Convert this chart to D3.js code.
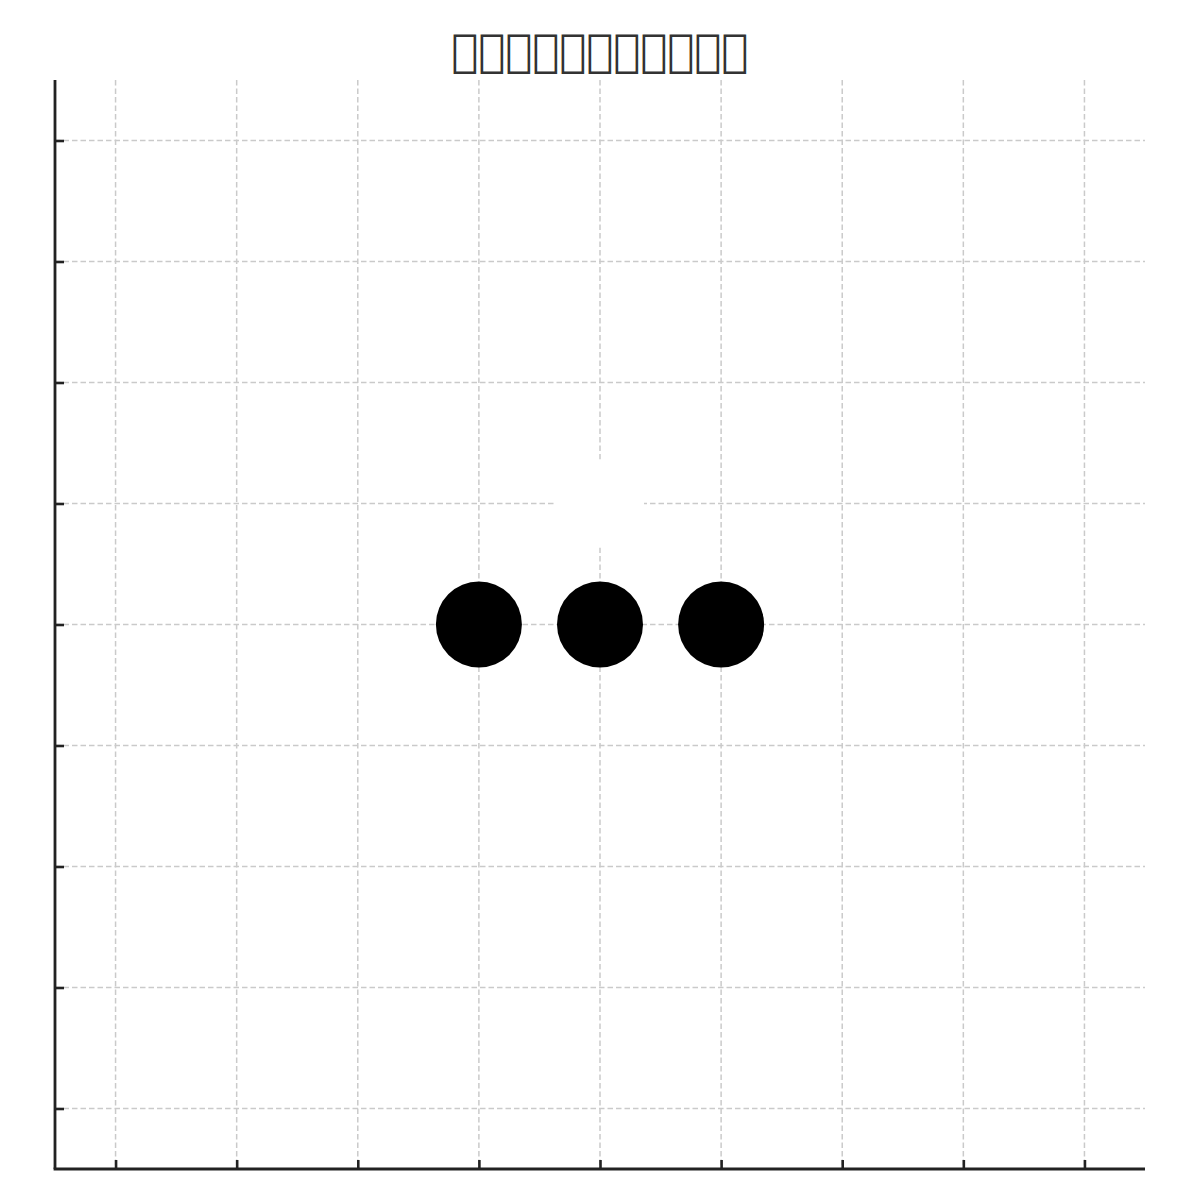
<!DOCTYPE html>
<html><head><meta charset="utf-8">
<script src="https://cdn.jsdelivr.net/npm/d3@7"></script>
<style>body{margin:0;background:#fff}</style>
</head><body>
<script>
const title = "\uE000\uE001\uE002\uE003\uE004\uE005\uE006\uE007\uE008\uE009\uE00A";
const xTicks = [0,1,2,3,4,5,6,7,8];
const yTicks = [0,1,2,3,4,5,6,7,8];
const dotsX = [3,4,5];
const dotsY = [4,4,4];
const squareX = [4];
const squareY = [5];

const W=1200,H=1200;
const m={left:55,right:1145,top:80,bottom:1169};
const svg=d3.select("body").append("svg").attr("width",W).attr("height",H);
const x=d3.scaleLinear().domain([-0.5,8.5]).range([m.left,m.right]);
const y=d3.scaleLinear().domain([-0.5,8.5]).range([m.bottom,m.top]);

const g=svg.append("g");
g.selectAll(".gx").data(xTicks).join("line")
 .attr("x1",d=>x(d)).attr("x2",d=>x(d)).attr("y1",m.top).attr("y2",m.bottom)
 .attr("stroke","#cacaca").attr("stroke-width",1.5).attr("stroke-dasharray","5.5,3");
g.selectAll(".gy").data(yTicks).join("line")
 .attr("y1",d=>y(d)).attr("y2",d=>y(d)).attr("x1",m.left).attr("x2",m.right)
 .attr("stroke","#cacaca").attr("stroke-width",1.5).attr("stroke-dasharray","5.5,3");

// white square marker
const sq=88;
g.selectAll(".sq").data(squareX.map((d,i)=>[d,squareY[i]])).join("rect")
 .attr("x",d=>x(d[0])-sq/2).attr("y",d=>y(d[1])-sq/2).attr("width",sq).attr("height",sq)
 .attr("fill","#ffffff");

g.selectAll(".dot").data(dotsX.map((d,i)=>[d,dotsY[i]])).join("circle")
 .attr("cx",d=>x(d[0])).attr("cy",d=>y(d[1])).attr("r",43).attr("fill","#000");

// axes
const xa=svg.append("g").attr("transform",`translate(0,${m.bottom})`)
 .call(d3.axisBottom(x).tickValues(xTicks).tickSize(-9).tickFormat(""));
const ya=svg.append("g").attr("transform",`translate(${m.left},0)`)
 .call(d3.axisLeft(y).tickValues(yTicks).tickSize(-9).tickFormat(""));
[xa,ya].forEach(a=>{
 a.select(".domain").attr("stroke","#222").attr("stroke-width",2.8);
 a.selectAll(".tick line").attr("stroke","#222").attr("stroke-width",2.6);
});
xa.select(".domain").attr("d",`M${m.left-1.4},0H${m.right}`);
ya.select(".domain").attr("d",`M0,${m.bottom}V${m.top}`);

svg.append("text").attr("x",600).attr("y",66).attr("text-anchor","middle")
 .attr("font-family","DejaVu Sans").attr("font-size",45).attr("fill","#333")
 .text(title);
</script>
</body></html>
